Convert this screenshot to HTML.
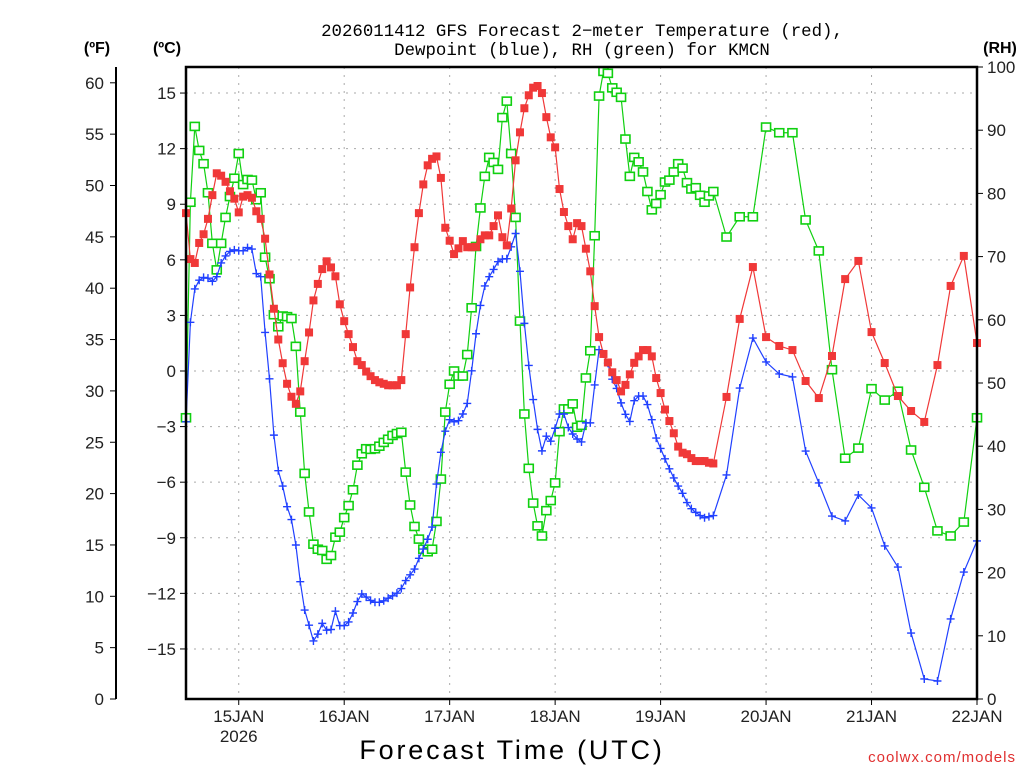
<!DOCTYPE html>
<html><head><meta charset="utf-8"><style>
html,body{margin:0;padding:0;background:#fff;width:1024px;height:768px;overflow:hidden}
svg{display:block;font-family:"Liberation Sans",sans-serif}
</style></head><body>
<svg id="chart" width="1024" height="768" viewBox="0 0 1024 768" xmlns="http://www.w3.org/2000/svg">
<text x="582" y="36" font-size="17.4" font-family="Liberation Mono, monospace" text-anchor="middle" fill="#000">2026011412 GFS Forecast 2−meter Temperature (red),</text>
<text x="582" y="55" font-size="17.4" font-family="Liberation Mono, monospace" text-anchor="middle" fill="#000">Dewpoint (blue), RH (green) for KMCN</text>
<text x="97" y="53" font-size="16" font-weight="bold" text-anchor="middle">(ºF)</text>
<text x="167" y="53" font-size="16" font-weight="bold" text-anchor="middle">(ºC)</text>
<text x="1000" y="53" font-size="16" font-weight="bold" text-anchor="middle">(RH)</text>
<text x="512" y="759" font-size="27" text-anchor="middle" letter-spacing="2.8" fill="#000">Forecast Time (UTC)</text>
<text x="1016" y="762" font-size="15" text-anchor="end" fill="#e03030" letter-spacing="1">coolwx.com/models</text>
<g id="grid"></g><g id="series"></g><g id="axes"></g>
</svg>
<script>
const tempC = [8.52,6.04,5.83,6.91,7.38,8.21,9.49,10.67,10.54,10.21,9.70,9.30,8.56,9.41,9.49,9.35,8.62,8.21,7.14,5.21,3.36,1.70,0.42,-0.69,-1.39,-1.77,-1.10,0.53,2.08,3.81,4.70,5.50,5.92,5.59,5.11,3.60,2.69,1.99,1.29,0.53,0.32,-0.03,-0.28,-0.49,-0.61,-0.69,-0.77,-0.77,-0.77,-0.49,1.99,4.51,6.68,8.52,10.07,11.10,11.45,11.58,10.42,7.73,7.03,
6.31,6.62,7.01,6.68,6.68,6.70,7.11,7.32,7.32,7.82,8.40,7.22,6.78,8.77,11.37,12.88,14.18,14.88,15.29,15.38,15.00,13.70,12.61,12.07,9.82,8.58,7.82,7.11,7.98,7.82,6.60,5.38,3.50,1.83,0.92,0.46,-0.07,-0.49,-1.10,-0.75,-0.18,0.44,0.79,1.13,1.13,0.79,-0.38,-1.19,-2.08,-2.70,-3.36,-4.08,-4.41,-4.49,-4.70,-4.86,-4.86,-4.86,-4.95,-4.99,
-1.40,2.81,5.61,1.83,1.35,1.13,-0.54,-1.46,0.81,4.96,5.94,2.10,0.43,-1.35,-2.16,-2.75,0.32,4.59,6.21,1.51];
const dewC = [-2.74,2.63,4.43,4.90,5.05,5.01,4.84,5.09,5.83,6.21,6.45,6.54,6.49,6.49,6.66,6.58,5.26,5.09,2.08,-0.42,-3.46,-5.38,-6.21,-7.32,-8.02,-9.39,-11.37,-12.90,-13.72,-14.57,-14.20,-13.62,-13.99,-13.95,-12.96,-13.74,-13.74,-13.54,-13.06,-12.44,-12.03,-12.20,-12.38,-12.48,-12.48,-12.40,-12.26,-12.13,-11.99,-11.74,-11.31,-11.00,-10.69,-10.11,-9.61,-9.08,-8.42,-6.10,-4.39,-3.25,-2.63,
-2.74,-2.68,-2.32,-1.75,0.01,2.01,3.54,4.59,5.09,5.48,5.90,6.04,6.06,6.70,7.42,5.38,2.57,0.30,-1.54,-3.15,-4.31,-3.52,-3.79,-3.09,-2.32,-2.32,-3.05,-3.40,-3.67,-3.83,-2.80,-2.80,-0.75,1.15,0.92,0.42,-0.44,-0.94,-1.72,-2.34,-2.72,-1.60,-1.35,-1.35,-1.81,-2.63,-3.62,-4.18,-4.74,-5.28,-5.77,-6.21,-6.60,-7.10,-7.43,-7.63,-7.80,-7.92,-7.86,-7.80,
-5.61,-0.92,1.78,0.49,-0.16,-0.32,-4.32,-6.04,-7.83,-8.09,-6.69,-7.39,-9.44,-10.58,-14.14,-16.62,-16.73,-13.38,-10.85,-9.17];
const rhPct = [44.5,78.6,90.6,86.8,84.7,80.1,72.1,67.9,72.1,76.2,79.5,82.4,86.3,81.4,82.2,82.1,79.0,80.1,69.9,66.5,60.8,58.9,60.6,60.5,60.2,55.8,45.4,35.7,29.6,24.5,23.7,23.5,22.1,22.7,25.6,26.4,28.7,30.6,33.1,37.0,38.8,39.6,39.5,39.6,40.0,40.6,41.1,41.7,42.0,42.2,35.9,30.7,27.3,25.3,23.7,23.3,23.7,28.1,34.8,45.4,49.8,
51.9,51.1,51.1,54.5,61.9,71.6,77.7,82.7,85.7,84.9,83.8,92.0,94.6,86.3,76.2,59.8,45.1,36.5,31.0,27.4,25.8,29.8,31.4,34.2,42.3,45.9,45.9,46.7,43.0,43.3,50.8,55.1,73.3,95.4,99.3,99.0,96.7,96.0,95.2,88.6,82.7,85.7,85.0,83.4,80.3,77.4,78.4,79.8,81.8,82.1,83.4,84.7,84.0,81.7,80.7,80.9,79.7,78.6,79.6,80.3,
73.1,76.3,76.3,90.5,89.6,89.6,75.8,70.9,52.1,38.1,39.7,49.1,47.3,48.7,39.4,33.5,26.6,25.8,28.0,44.5];
const dayLabels = ["15JAN","16JAN","17JAN","18JAN","19JAN","20JAN","21JAN","22JAN"];
const celsiusTicks = [-15,-12,-9,-6,-3,0,3,6,9,12,15];
const fahrenheitTicks = [0,5,10,15,20,25,30,35,40,45,50,55,60];
const rhTicks = [0,10,20,30,40,50,60,70,80,90,100];

const NS="http://www.w3.org/2000/svg";
const L=186,R=977,T=67,B=699;
const hours=[];for(let h=0;h<=120;h++)hours.push(h);for(let h=123;h<=180;h+=3)hours.push(h);
const xH=h=>L+(R-L)*h/180;
const yC=c=>371-c*18.53;
const yF=f=>699-f*10.27;
const yRH=r=>B-(B-T)*r/100;
function mk(tag,attrs,parent){const e=document.createElementNS(NS,tag);for(const k in attrs)e.setAttribute(k,attrs[k]);parent.appendChild(e);return e;}
const grid=document.getElementById('grid'),ser=document.getElementById('series'),ax=document.getElementById('axes');
celsiusTicks.forEach(c=>{const l=mk('line',{x1:L,x2:R,y1:yC(c),y2:yC(c),stroke:'#aaa','stroke-width':1,'stroke-dasharray':'2,6'},grid);

});
dayLabels.forEach((d,i)=>{const x=xH(12+24*i);const l=mk('line',{x1:x,x2:x,y1:T,y2:B,stroke:'#aaa','stroke-width':1,'stroke-dasharray':'2,6'},grid);

});
function series(vals,yf,color,name,marker){
  const pts=vals.map((v,i)=>[xH(hours[i]),Math.max(T,yf(v))]);
  const pl=mk('polyline',{points:pts.map(p=>p.join(',')).join(' '),fill:'none',stroke:color,'stroke-width':1.2},ser);
  
  
  pts.forEach(([x,y])=>{let m;
    if(marker==='fill'){m=mk('rect',{x:x-4,y:y-4,width:8,height:8,fill:color},ser);}
    else if(marker==='open'){m=mk('rect',{x:x-4.5,y:y-4,width:9,height:8,fill:'#fff',stroke:color,'stroke-width':1.6},ser);}
    else{m=mk('path',{d:`M${x-4},${y}H${x+4}M${x},${y-4}V${y+4}`,stroke:color,'stroke-width':1.4},ser);}
    
    });
}
series(rhPct,yRH,'#10d010','rh','open');
series(dewC,yC,'#2040ff','dewpoint','plus');
series(tempC,yC,'#f03838','temperature','fill');
const fr=mk('rect',{x:L,y:T,width:R-L,height:B-T,fill:'none',stroke:'#000','stroke-width':2.5},ax);


celsiusTicks.forEach(c=>{const y=yC(c);mk('line',{x1:L-6,x2:L,y1:y,y2:y,stroke:'#000'},ax);
const t=mk('text',{x:L-10,y:y+6,'font-size':17,'text-anchor':'end',fill:'#222'},ax);t.textContent=(c<0?'\u2212':'')+Math.abs(c);

});
const fl=mk('line',{x1:116,x2:116,y1:T,y2:B,stroke:'#000','stroke-width':2},ax);


fahrenheitTicks.forEach(f=>{const y=yF(f);mk('line',{x1:110,x2:116,y1:y,y2:y,stroke:'#000'},ax);
const t=mk('text',{x:104,y:y+6,'font-size':17,'text-anchor':'end',fill:'#222'},ax);t.textContent=f;

});
rhTicks.forEach(r=>{const y=yRH(r);mk('line',{x1:R,x2:R+6,y1:y,y2:y,stroke:'#000'},ax);
const t=mk('text',{x:R+10,y:y+6,'font-size':17,'text-anchor':'start',fill:'#222'},ax);t.textContent=r;

});
dayLabels.forEach((d,i)=>{const x=xH(12+24*i);mk('line',{x1:x,x2:x,y1:B,y2:B+6,stroke:'#000'},ax);
const t=mk('text',{x:x,y:B+23,'font-size':17,'text-anchor':'middle',fill:'#222'},ax);t.textContent=d;

});
const yr=mk('text',{x:xH(12),y:B+43,'font-size':17,'text-anchor':'middle',fill:'#222'},ax);yr.textContent='2026';


</script>
</body></html>
